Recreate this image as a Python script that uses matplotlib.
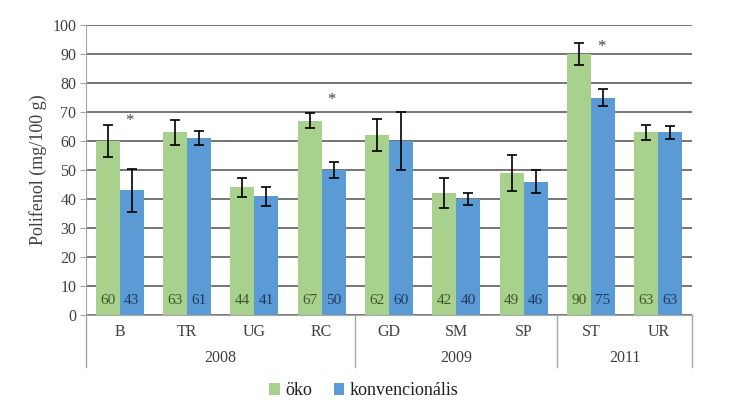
import matplotlib.pyplot as plt
import numpy as np
from matplotlib import transforms
from matplotlib.lines import Line2D

plt.rcParams['font.family'] = ['Liberation Serif', 'DejaVu Serif']

categories = ['B', 'TR', 'UG', 'RC', 'GD', 'SM', 'SP', 'ST', 'UR']
years = ['2008', '2009', '2011']
year_sizes = [4, 3, 2]

oko = [60, 63, 44, 67, 62, 42, 49, 90, 63]
oko_err = [5.4, 4.3, 3.2, 2.6, 5.5, 5.2, 6.2, 3.8, 2.6]
konv = [43, 61, 41, 50, 60, 40, 46, 75, 63]
konv_err = [7.5, 2.5, 3.3, 2.6, 10.0, 2.0, 4.0, 3.0, 2.3]

# significance markers: category index -> height
star_idx = [0, 3, 7]
star_y = [67, 74, 92.5]

green = '#A9D18E'
blue = '#5B9BD5'

fig = plt.figure(figsize=(7.5, 4.05), dpi=100)
ax = fig.add_axes([0.1147, 0.2222, 0.808, 0.716])

x = np.arange(len(categories))
w = 0.357
ax.bar(x - w / 2, oko, w, color=green, zorder=2, label='öko')
ax.bar(x + w / 2, konv, w, color=blue, zorder=2, label='konvencionális')
ax.errorbar(x - w / 2, oko, yerr=oko_err, fmt='none', ecolor='black',
            elinewidth=1.2, capsize=3.5, capthick=1.2, zorder=3)
ax.errorbar(x + w / 2, konv, yerr=konv_err, fmt='none', ecolor='black',
            elinewidth=1.2, capsize=3.5, capthick=1.2, zorder=3)

for i in range(len(categories)):
    ax.text(x[i] - w / 2, 5, str(oko[i]), ha='center', va='center',
            fontsize=11, color='#3d5a2a', zorder=4)
    ax.text(x[i] + w / 2, 5, str(konv[i]), ha='center', va='center',
            fontsize=11, color='#1f3a60', zorder=4)

for i, yy in zip(star_idx, star_y):
    ax.text(x[i] + w / 2 - 0.03, yy, '*', ha='center', va='center',
            fontsize=12, color='#444444')

ax.set_xlim(-0.5, len(categories) - 0.5)
ax.set_ylim(0, 100)
ax.set_yticks(range(0, 101, 10))
ax.yaxis.grid(True, color='#505050', linewidth=1.1, zorder=0)
ax.set_axisbelow(True)
for s in ['top', 'right']:
    ax.spines[s].set_visible(False)
ax.spines['left'].set_color('#a6a6a6')
ax.spines['bottom'].set_color('#a6a6a6')
ax.tick_params(axis='y', length=4, color='#a6a6a6', labelsize=11.5,
               labelcolor='#404040', pad=3)
ax.set_xticks([])
ax.set_ylabel('Polifenol (mg/100 g)', fontsize=13, color='#404040', labelpad=4)

# two-level category axis
trans = transforms.blended_transform_factory(ax.transData, ax.transAxes)
for i, c in enumerate(categories):
    ax.text(i, -0.059, c, transform=trans, ha='center', va='center',
            fontsize=11.5, color='#404040')
start = -0.5
seps = [start]
for yr, n in zip(years, year_sizes):
    ax.text(start + n / 2, -0.148, yr, transform=trans, ha='center',
            va='center', fontsize=11.5, color='#404040')
    start += n
    seps.append(start)
for s in seps:
    ax.add_line(Line2D([s, s], [0, -0.179], transform=trans, color='#a6a6a6',
                       linewidth=1, clip_on=False))

fig.legend(loc='center', bbox_to_anchor=(0.485, 0.035), ncol=2, frameon=False,
           prop={'family': 'Liberation Serif', 'size': 13},
           handlelength=0.6, handleheight=0.6, handletextpad=0.3,
           columnspacing=1.2, labelcolor='#202020')

fig.savefig('out.png', dpi=100, facecolor='white')
